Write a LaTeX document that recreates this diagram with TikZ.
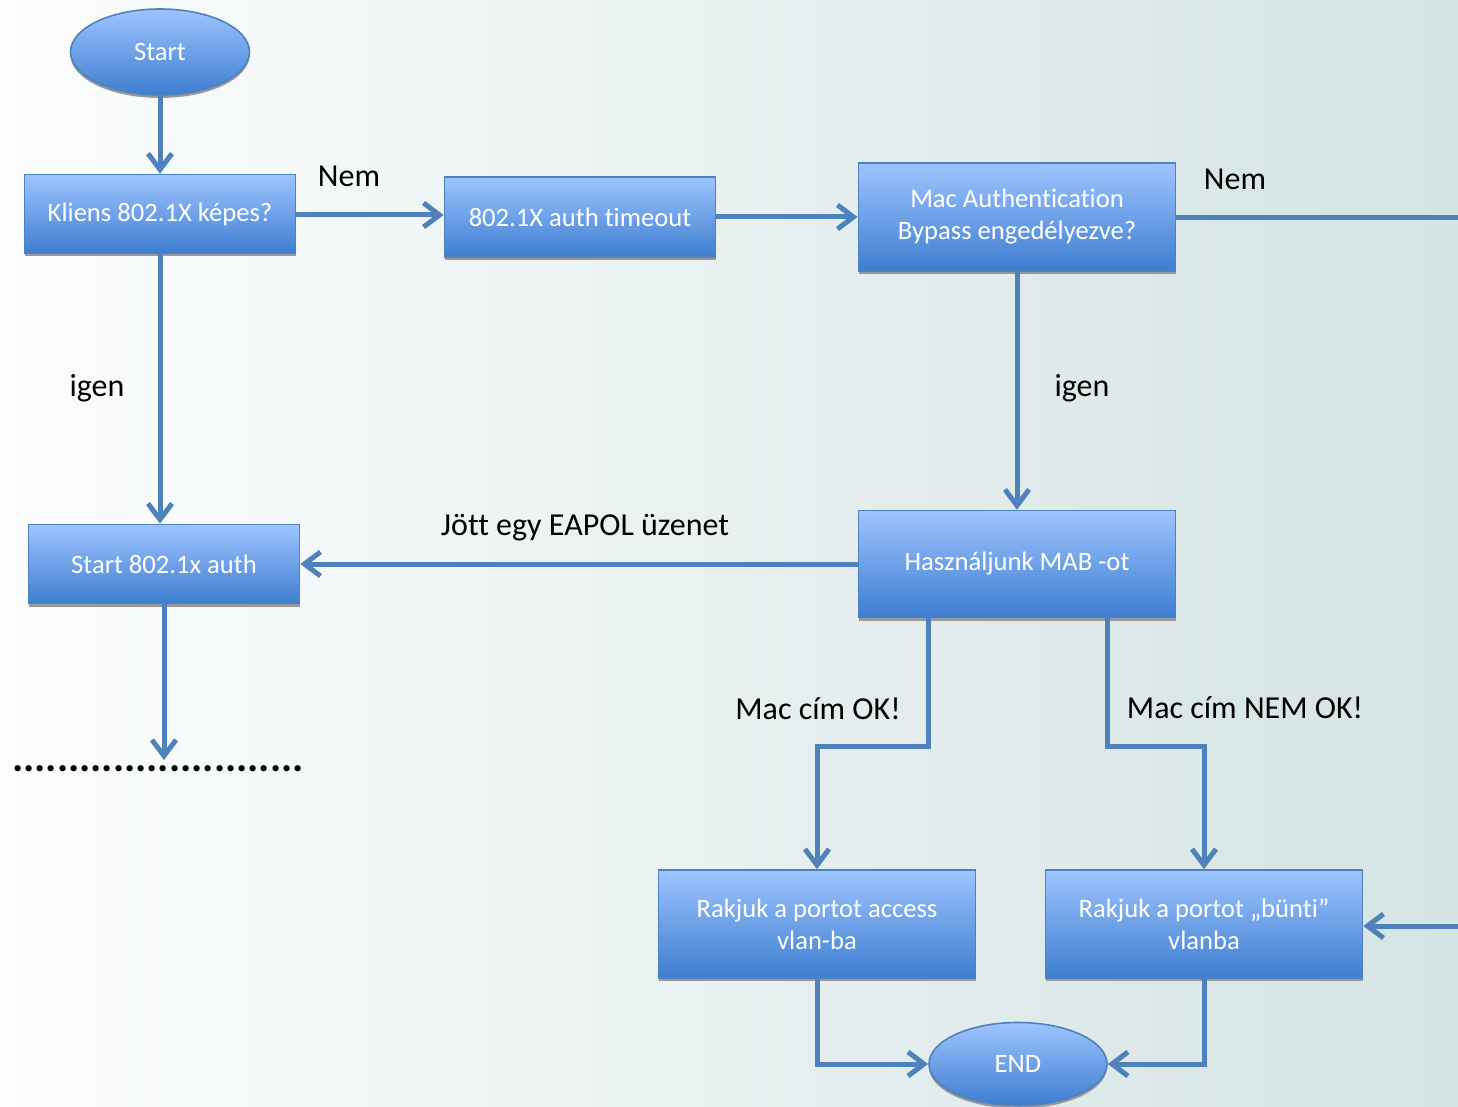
\documentclass[tikz,border=0pt]{standalone}
\usepackage{fontspec}
\setmainfont{Carlito}[Ligatures={NoCommon}]
\usetikzlibrary{arrows.meta,shapes.geometric,shadows}
\definecolor{lineblue}{RGB}{79,129,189}
\definecolor{boxtop}{RGB}{158,196,255}
\definecolor{boxbot}{RGB}{62,126,208}
\definecolor{bgleft}{RGB}{252,253,253}
\definecolor{bgright}{RGB}{212,227,227}
\tikzset{
  boxsty/.style={rectangle, draw=lineblue, line width=0.8pt, top color=boxtop, bottom color=boxbot,
    text=white, font=\fontsize{13.3}{16}\selectfont, align=center, inner sep=0pt,
    drop shadow={shadow xshift=0pt, shadow yshift=-1.5pt, fill=gray!80, opacity=1}},
  ellsty/.style={ellipse, draw=lineblue, line width=0.8pt, top color=boxtop, bottom color=boxbot,
    text=white, font=\fontsize{13.3}{16}\selectfont, inner sep=0pt,
    drop shadow={shadow xshift=0pt, shadow yshift=-1.5pt, fill=gray!80, opacity=1}},
  conn/.style={draw=lineblue, line width=2.5pt, -{Straight Barb[length=8pt,width=12pt,line width=2.5pt]}},
  plainconn/.style={draw=lineblue, line width=2.5pt},
  lbl/.style={font=\fontsize{16}{19}\selectfont, text=black, inner sep=0pt}
}
\begin{document}
\begin{tikzpicture}[x=0.5pt,y=-0.5pt]
\useasboundingbox (0,0) rectangle (1458,1107);
\shade[left color=bgleft, right color=bgright] (0,0) rectangle (1458,1107);

% nodes
\node[ellsty, minimum width=89.5pt, minimum height=43pt] (start) at (160,52) {Start};
\node[boxsty, minimum width=135.5pt, minimum height=39.5pt] (kliens) at (160,214) {Kliens 802.1X képes?};
\node[boxsty, minimum width=135.5pt, minimum height=40pt] (timeout) at (580,217) {802.1X auth timeout};
\node[boxsty, minimum width=158.5pt, minimum height=54pt] (macauth) at (1017,217) {Mac Authentication\\Bypass engedélyezve?};
\node[boxsty, minimum width=135.5pt, minimum height=39.5pt] (s802) at (164,564) {Start 802.1x auth};
\node[boxsty, minimum width=158.5pt, minimum height=53.5pt] (mab) at (1017,564) {Használjunk MAB -ot};
\node[boxsty, minimum width=158.5pt, minimum height=54pt] (access) at (817,924) {Rakjuk a portot access\\vlan-ba};
\node[boxsty, minimum width=158.5pt, minimum height=54pt] (bunti) at (1204,924) {Rakjuk a portot „bünti”\\vlanba};
\node[ellsty, minimum width=89pt, minimum height=41.5pt] (endn) at (1018,1064) {END};

\coordinate (rout) at (1458,218);
\coordinate (rin) at (1458,926);
\coordinate (dotend) at (164,760);

% connectors
\draw[conn] (start) -- (kliens);
\draw[conn] (kliens.east |- 0,215) -- (timeout.west |- 0,215);
\draw[conn] (timeout) -- (macauth);
\draw[plainconn] (macauth.east |- rout) -- (rout);
\draw[conn] (rin) -- (bunti.east |- rin);
\draw[conn] (macauth) -- (mab);
\draw[conn] (kliens) -- (kliens |- s802.north);
\draw[conn] (mab) -- (s802);
\draw[conn] (s802) -- (dotend);
\draw[conn] ([xshift=-44.5pt]mab.south) -- ++(0,128) -| (access.north);
\draw[conn] ([xshift=45pt]mab.south) -- ++(0,128) -| (bunti.north);
\draw[conn] (access.south) |- (endn.west);
\draw[conn] (bunti.south) |- (endn.east);

% labels
\node[lbl] (l1) at (349,176) {Nem};
\node[lbl] (l2) at (1235,179) {Nem};
\node[lbl] (l3) at (97,388) {igen};
\node[lbl] (l4) at (1082,388) {igen};
\node[lbl] (l5) at (585,528) {Jött egy EAPOL üzenet};
\node[lbl] (l6) at (818,709) {Mac cím OK!};
\node[lbl] (l7) at (1245,708) {Mac cím NEM OK!};
\node[font=\fontsize{21}{24}\bfseries, inner sep=0pt] (dots) at (158,769) {..........................};
\end{tikzpicture}
\end{document}
